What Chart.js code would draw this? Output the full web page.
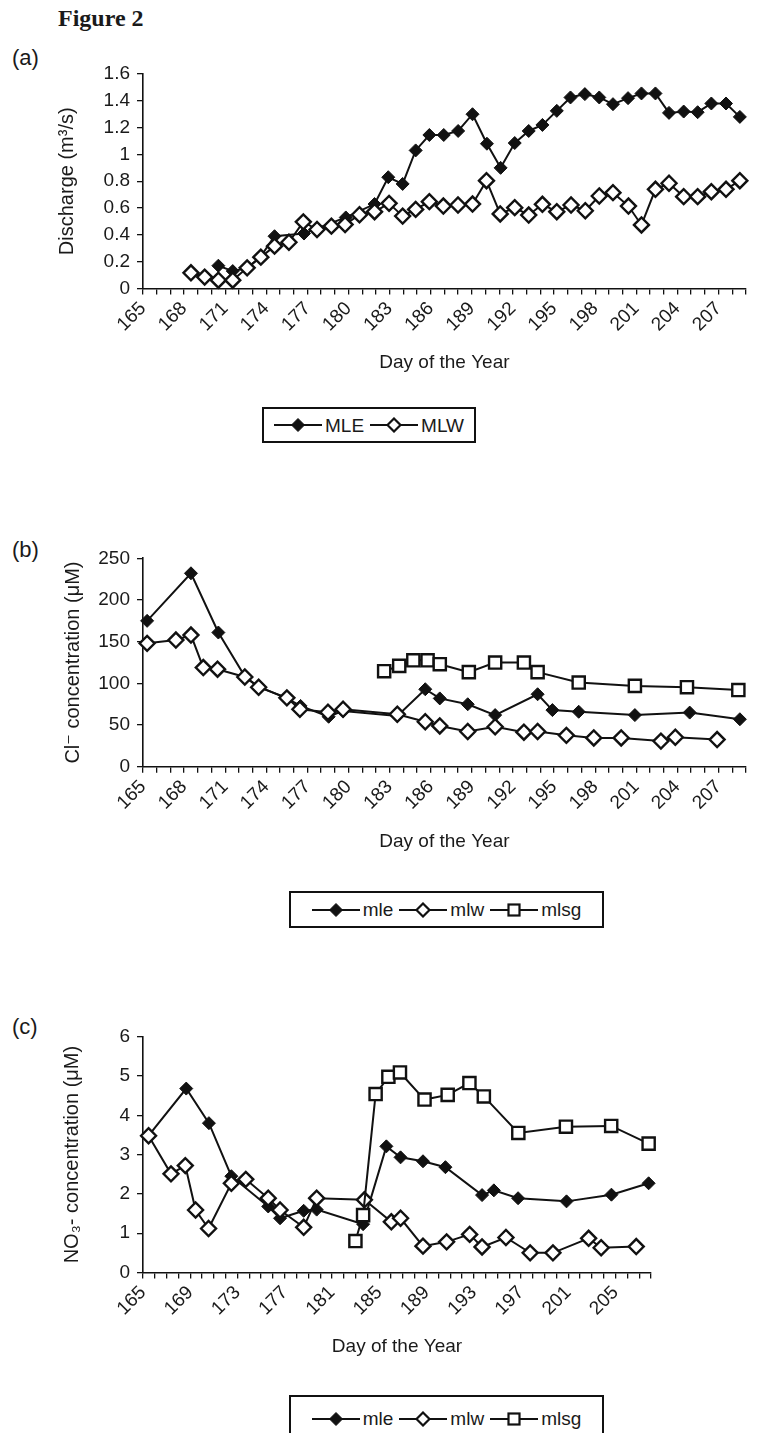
<!DOCTYPE html>
<html><head><meta charset="utf-8">
<script src="https://cdn.jsdelivr.net/npm/chart.js@4.4.1/dist/chart.umd.min.js"></script>
<style>
html,body{margin:0;padding:0;background:#fff;}
body{width:765px;height:1433px;position:relative;overflow:hidden;font-family:'Liberation Sans',Arial,sans-serif;color:#1a1a1a;}
.abs{position:absolute;white-space:nowrap;}
.panel{font-size:22px;line-height:22px;}
.legend{position:absolute;border:2px solid #111;box-sizing:border-box;display:flex;align-items:center;justify-content:center;font-size:19px;line-height:19px;background:#fff;}
.item{display:flex;align-items:center;margin:0 3px;}
.item svg{margin-right:3px;display:block;}
canvas{position:absolute;left:0;}
</style></head><body>
<div class="abs" style="left:58px;top:6px;font:bold 24px/24px 'Liberation Serif','Times New Roman',serif;">Figure 2</div>
<div class="abs panel" style="left:12px;top:47px">(a)</div>
<div class="abs panel" style="left:12px;top:539px">(b)</div>
<div class="abs panel" style="left:12px;top:1016px">(c)</div>
<canvas id="ca"></canvas>
<canvas id="cb"></canvas>
<canvas id="cc"></canvas>
<div class="legend" id="la" style="left:262px;top:407px;width:214px;height:36px;"></div>
<div class="legend" id="lb" style="left:289px;top:891px;width:315px;height:37px;"></div>
<div class="legend" id="lc" style="left:289px;top:1395px;width:315px;height:45px;align-items:flex-start;padding-top:12px;"></div>
<script>
// ---------- Panel (a): discharge ----------
const aXLabels = [165,168,171,174,177,180,183,186,189,192,195,198,201,204,207];
const aYValues = [0,0.2,0.4,0.6,0.8,1,1.2,1.4,1.6];
const aYLabels = ['0','0.2','0.4','0.6','0.8','1','1.2','1.4','1.6'];
const aSeriesNames = ['MLE','MLW'];
const aMLEday = [170.5,171.55,172.6,173.6,174.6,176.75,179.8,181.9,182.9,183.95,184.9,185.9,186.95,188.0,189.05,190.1,191.1,192.13,193.15,194.15,195.2,196.2,197.25,198.3,199.3,200.4,201.38,202.4,203.39,204.46,205.48,206.48,207.55,208.56];
const aMLE    = [0.17,0.13,0.15,0.24,0.39,0.41,0.53,0.63,0.83,0.78,1.03,1.145,1.145,1.175,1.30,1.08,0.90,1.085,1.175,1.22,1.325,1.425,1.45,1.425,1.375,1.42,1.455,1.455,1.31,1.32,1.315,1.38,1.38,1.28];
const aMLWday = [168.5,169.5,170.5,171.55,172.6,173.6,174.6,175.65,176.7,177.7,178.75,179.75,180.8,181.9,182.96,183.95,184.9,185.9,186.92,187.99,189.05,190.07,191.07,192.13,193.15,194.15,195.2,196.24,197.28,198.3,199.3,200.43,201.38,202.4,203.39,204.46,205.48,206.48,207.55,208.56];
const aMLW    = [0.117,0.085,0.062,0.062,0.154,0.234,0.316,0.345,0.497,0.44,0.465,0.477,0.55,0.573,0.635,0.54,0.59,0.648,0.615,0.623,0.63,0.804,0.556,0.603,0.548,0.628,0.573,0.623,0.58,0.69,0.715,0.615,0.474,0.74,0.785,0.685,0.685,0.722,0.74,0.804];

// ---------- Panel (b): chloride ----------
const bXLabels = [165,168,171,174,177,180,183,186,189,192,195,198,201,204,207];
const bYValues = [0,50,100,150,200,250];
const bYLabels = ['0','50','100','150','200','250'];
const bSeriesNames = ['mle','mlw','mlsg'];
const bMleDay  = [165.3,168.5,170.5,172.45,173.45,175.5,176.5,178.55,179.6,183.56,185.6,186.66,188.7,190.7,193.8,194.88,196.8,200.9,204.9,208.56];
const bMle     = [175,232,161,108,96,82,73,60,67,61,93,82,75,62,87,68,66,62,65,57];
const bMlwDay  = [165.3,167.4,168.5,169.4,170.44,172.43,173.44,175.5,176.45,178.5,179.6,183.56,185.6,186.66,188.7,190.7,192.8,193.8,195.9,197.9,199.9,202.8,203.85,206.9];
const bMlw     = [148,152,158,119,117,107.7,95.4,82.7,69,65.4,69,63,54,49,42.3,48,41.5,42.3,37.7,34.6,34.6,30.8,35.4,32.7];
const bMlsgDay = [182.6,183.7,184.73,185.77,186.66,188.78,190.7,192.8,193.8,196.8,200.9,204.7,208.45];
const bMlsg    = [114.6,121,127.7,127.7,123,113.5,125,125,113.5,101,97,95.4,92];

// ---------- Panel (c): nitrate ----------
const cXLabels = [165,169,173,177,181,185,189,193,197,201,205];
const cYValues = [0,1,2,3,4,5,6];
const cYLabels = ['0','1','2','3','4','5','6'];
const cSeriesNames = ['mle','mlw','mlsg'];
const cMleDay  = [165.47,168.66,170.58,172.48,175.6,176.6,178.6,179.7,183.63,185.6,186.8,188.7,190.6,193.7,194.7,196.75,200.85,204.65,207.8];
const cMle     = [3.48,4.68,3.80,2.45,1.68,1.38,1.57,1.60,1.23,3.21,2.93,2.83,2.68,1.97,2.09,1.89,1.81,1.98,2.27];
const cMlwDay  = [165.47,167.37,168.58,169.45,170.55,172.48,173.7,175.6,176.6,178.6,179.7,183.74,186.02,186.8,188.7,190.7,192.65,193.7,195.72,197.77,199.7,202.72,203.78,206.75];
const cMlw     = [3.48,2.51,2.72,1.59,1.12,2.27,2.37,1.89,1.59,1.15,1.89,1.85,1.29,1.38,0.67,0.78,0.97,0.65,0.89,0.50,0.50,0.87,0.63,0.66];
const cMlsgDay = [182.98,183.63,184.69,185.77,186.75,188.83,190.79,192.63,193.85,196.77,200.8,204.63,207.8];
const cMlsg    = [0.80,1.46,4.54,4.98,5.09,4.40,4.52,4.82,4.48,3.55,3.71,3.73,3.28];

// ---------- styling ----------
const FONT = "'Liberation Sans', Arial, 'DejaVu Sans', sans-serif";
const INK = '#1a1a1a';
const TICK_SIZE = 19, TITLE_SIZE = 19, YTITLE_SIZE = 20;

const MARK = {
  filled:  {pointStyle:'rectRot', pointRadius:6.5, pointBackgroundColor:'#111', pointBorderColor:'#111', pointBorderWidth:1},
  diamond: {pointStyle:'rectRot', pointRadius:7.5, pointBackgroundColor:'#fff', pointBorderColor:'#111', pointBorderWidth:2.4},
  square:  {pointStyle:'rect',    pointRadius:8.6, pointBackgroundColor:'#fff', pointBorderColor:'#111', pointBorderWidth:2.4}
};

function series(label, days, vals, kind, order) {
  return Object.assign({
    label, order,
    data: days.map((d, i) => ({x: d, y: vals[i]})),
    showLine: true, borderColor: '#111', borderWidth: 2, tension: 0, clip: false,
    pointHoverRadius: 0
  }, MARK[kind]);
}

function labelFor(values, labels, v) {
  for (let i = 0; i < values.length; i++) if (Math.abs(values[i] - v) < 1e-6) return labels[i];
  return '';
}

function panel(id, g, datasets, xr, yr) {
  const cv = document.getElementById(id);
  cv.width = 765; cv.height = g.h; cv.style.top = g.top + 'px';
  cv.style.width = '765px'; cv.style.height = g.h + 'px';
  const lhX = TITLE_SIZE * 1.2, lhY = YTITLE_SIZE * 1.2;
  return new Chart(cv, {
    type: 'scatter',
    data: {datasets},
    options: {
      responsive: false, animation: false, devicePixelRatio: 1,
      events: [],
      layout: {padding: {left: 0, right: 765 - g.right, top: g.areaTop - g.top, bottom: 0}},
      plugins: {legend: {display: false}, tooltip: {enabled: false}},
      scales: {
        x: {
          type: 'linear', min: xr.min, max: xr.max,
          afterFit: s => { s.height = g.top + g.h - g.areaBottom; },
          ticks: {stepSize: 1, autoSkip: false, minRotation: 45, maxRotation: 45, padding: 3,
            color: INK, font: {family: FONT, size: TICK_SIZE},
            callback: v => (xr.labels.indexOf(Math.round(v)) >= 0 && Math.abs(v - Math.round(v)) < 1e-6) ? String(Math.round(v)) : ''},
          grid: {drawOnChartArea: false, drawTicks: true, tickLength: 6, color: '#111', lineWidth: 1.3},
          border: {display: true, color: '#111', width: 1.6},
          title: {display: true, text: 'Day of the Year', color: INK, font: {family: FONT, size: TITLE_SIZE},
            padding: {top: 0, bottom: g.top + g.h - g.xTitleY - lhX / 2}}
        },
        y: {
          type: 'linear', min: yr.min, max: yr.max,
          afterFit: s => { s.width = g.left; },
          ticks: {stepSize: yr.step, padding: 7, color: INK, font: {family: FONT, size: TICK_SIZE},
            callback: v => labelFor(yr.values, yr.labels, v)},
          grid: {drawOnChartArea: false, drawTicks: true, tickLength: 6, color: '#111', lineWidth: 1.3},
          border: {display: true, color: '#111', width: 1.6},
          title: {display: true, text: yr.title, color: INK, font: {family: FONT, size: YTITLE_SIZE},
            padding: {top: g.yTitleX - lhY / 2, bottom: 0}}
        }
      }
    }
  });
}

panel('ca',
  {top: 40, h: 350, left: 143, right: 762, areaTop: 74, areaBottom: 288.5, xTitleY: 363, yTitleX: 67},
  [series(aSeriesNames[0], aMLEday, aMLE, 'filled', 3),
   series(aSeriesNames[1], aMLWday, aMLW, 'diamond', 2)],
  {min: 165, max: 209, labels: aXLabels},
  {min: 0, max: 1.6, step: 0.2, values: aYValues, labels: aYLabels, title: 'Discharge (m³/s)'});

panel('cb',
  {top: 520, h: 350, left: 143, right: 762, areaTop: 558.3, areaBottom: 766.8, xTitleY: 842, yTitleX: 73},
  [series(bSeriesNames[0], bMleDay, bMle, 'filled', 3),
   series(bSeriesNames[1], bMlwDay, bMlw, 'diamond', 2),
   series(bSeriesNames[2], bMlsgDay, bMlsg, 'square', 1)],
  {min: 165, max: 209, labels: bXLabels},
  {min: 0, max: 250, step: 50, values: bYValues, labels: bYLabels, title: 'Cl⁻ concentration (μM)'});

panel('cc',
  {top: 1000, h: 380, left: 143, right: 651, areaTop: 1036.7, areaBottom: 1272.5, xTitleY: 1347, yTitleX: 72},
  [series(cSeriesNames[0], cMleDay, cMle, 'filled', 3),
   series(cSeriesNames[1], cMlwDay, cMlw, 'diamond', 2),
   series(cSeriesNames[2], cMlsgDay, cMlsg, 'square', 1)],
  {min: 165, max: 208, labels: cXLabels},
  {min: 0, max: 6, step: 1, values: cYValues, labels: cYLabels, title: 'NO₃- concentration (μM)'});

// ---------- legends (HTML, real text) ----------
const SAMPLE = {
  filled:  '<polygon points="24,1.5 30.5,8 24,14.5 17.5,8" fill="#111" stroke="#111" stroke-width="1"/>',
  diamond: '<polygon points="24,1.5 30.5,8 24,14.5 17.5,8" fill="#fff" stroke="#111" stroke-width="2.2"/>',
  square:  '<rect x="18.5" y="2.5" width="11" height="11" fill="#fff" stroke="#111" stroke-width="2.2"/>'
};
function legend(id, names, kinds) {
  const el = document.getElementById(id);
  el.innerHTML = names.map((n, i) =>
    '<span class="item"><svg width="48" height="16" viewBox="0 0 48 16"><line x1="0" y1="8" x2="48" y2="8" stroke="#111" stroke-width="2"/>' +
    SAMPLE[kinds[i]] + '</svg><span>' + n + '</span></span>').join('');
}
legend('la', aSeriesNames, ['filled', 'diamond']);
legend('lb', bSeriesNames, ['filled', 'diamond', 'square']);
legend('lc', cSeriesNames, ['filled', 'diamond', 'square']);
</script>
</body></html>
